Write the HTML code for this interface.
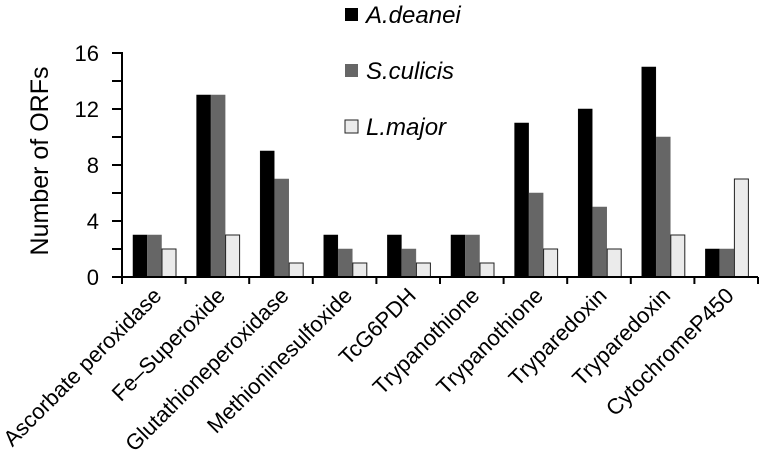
<!DOCTYPE html>
<html><head><meta charset="utf-8"><style>
body{margin:0;background:#fff}
svg{display:block;font-family:"Liberation Sans",Arial,sans-serif}
</style></head><body>
<svg id="chart" width="764" height="461" viewBox="0 0 764 461" xmlns="http://www.w3.org/2000/svg"></svg>
<script>
const categories=["Ascorbate peroxidase","Fe\u2013Superoxide","Glutathioneperoxidase","Methioninesulfoxide","TcG6PDH","Trypanothione","Trypanothione","Tryparedoxin","Tryparedoxin","CytochromeP450"];
const seriesNames=["A.deanei","S.culicis","L.major"];
const aDeanei=[3,13,9,3,3,3,11,12,15,2];
const sCulicis=[3,13,7,2,2,3,6,5,10,2];
const lMajor=[2,3,1,1,1,1,2,2,3,7];
const yTicks=[0,4,8,12,16];
const yMinorTicks=[0,2,4,6,8,10,12,14,16];

const NS="http://www.w3.org/2000/svg";
const svg=document.getElementById('chart');
const x0=122,x1=758,yBase=277,yTop=53,yMax=16;
const y=v=>yBase-(yBase-yTop)*v/yMax;
const bandW=(x1-x0)/categories.length;
const xc=i=>x0+bandW*i;
const colors=["#000000","#666666","#ebebeb"];
const series=[aDeanei,sCulicis,lMajor];
function mk(tag,attrs){const e=document.createElementNS(NS,tag);for(const k in attrs)e.setAttribute(k,attrs[k]);svg.appendChild(e);return e;}

series.forEach((s,si)=>{
  s.forEach((v,i)=>{
    const bx=xc(i)+11+si*14.5;
    const r=mk('rect',{x:bx,y:y(v),width:14,height:yBase-y(v),fill:colors[si],stroke:si==2?'#222':colors[si],'stroke-width':si==2?1:0.5});
    
    
  });
});

let a=mk('line',{x1:x0,y1:yTop-1,x2:x0,y2:yBase+1,stroke:'#000','stroke-width':2});

a=mk('line',{x1:x0-1,y1:yBase,x2:x1,y2:yBase,stroke:'#000','stroke-width':2});

yMinorTicks.forEach(t=>{
  const l=mk('line',{x1:x0-10,y1:y(t),x2:x0,y2:y(t),stroke:'#000','stroke-width':2});
  
  
});
yTicks.forEach(t=>{
  const tx=mk('text',{x:99,y:y(t)+8,'text-anchor':'end','font-size':22});
  tx.textContent=t;
  
  
});
for(let i=0;i<=categories.length;i++){
  const l=mk('line',{x1:xc(i),y1:yBase,x2:xc(i),y2:yBase+7,stroke:'#000','stroke-width':2});
  
  
}
categories.forEach((c,i)=>{
  const ax=xc(i)+bandW/2+9, ay=297;
  const tx=mk('text',{x:ax,y:ay,'text-anchor':'end','font-size':22,transform:`rotate(-45 ${ax} ${ay})`});
  tx.textContent=c;
  
  
});
const yt=mk('text',{x:0,y:0,'text-anchor':'middle','font-size':25,transform:'translate(48 161) rotate(-90)'});
yt.textContent='Number of ORFs';



const legY=[14,70,126];
seriesNames.forEach((n,si)=>{
  const r=mk('rect',{x:345,y:legY[si]-6,width:13,height:13,fill:colors[si],stroke:si==2?'#222':colors[si],'stroke-width':si==2?1:0});
  
  
  const t=mk('text',{x:366,y:legY[si]+9,'font-size':24,'font-style':'italic'});
  t.textContent=n;
  
  
});
</script>
</body></html>
